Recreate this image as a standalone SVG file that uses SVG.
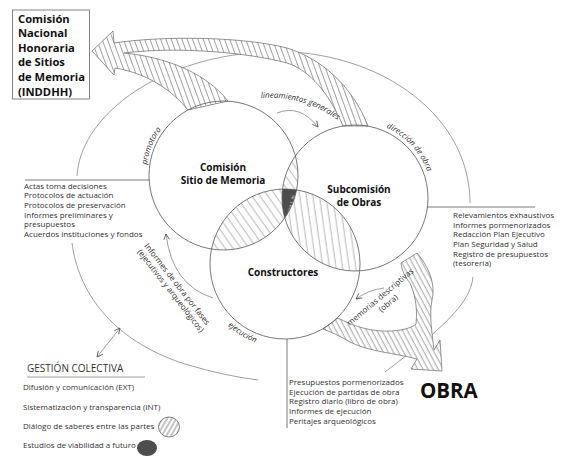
<svg xmlns="http://www.w3.org/2000/svg" width="584" height="461" viewBox="0 0 584 461">
<style>
.t{font-family:"Open Sans","Noto Sans","DejaVu Sans",sans-serif;fill:#333}
.b{font-weight:bold;fill:#111}
.i{font-style:italic}
.ln{fill:none;stroke:#555;stroke-width:0.8}
.thin{fill:none;stroke:#777;stroke-width:0.7}
.circ{fill:none;stroke:#555;stroke-width:0.8}
.band{stroke:#666;stroke-width:0.7}
</style>
<defs>
<pattern id="hA" width="6.5" height="6.5" patternUnits="userSpaceOnUse" patternTransform="rotate(-35)"><line x1="3" y1="0" x2="3" y2="6.5" stroke="#888" stroke-width="0.6"/></pattern>
<pattern id="hV" width="6.5" height="6.5" patternUnits="userSpaceOnUse" patternTransform="rotate(-8)"><line x1="3" y1="0" x2="3" y2="6.5" stroke="#888" stroke-width="0.6"/></pattern>
<pattern id="hT" width="5" height="5" patternUnits="userSpaceOnUse" patternTransform="rotate(-20)"><line x1="2.5" y1="0" x2="2.5" y2="5" stroke="#666" stroke-width="0.6"/></pattern>
<pattern id="hL" width="4.5" height="4.5" patternUnits="userSpaceOnUse" patternTransform="rotate(-28)"><line x1="2" y1="0" x2="2" y2="4.5" stroke="#666" stroke-width="0.6"/></pattern>
<pattern id="hG" width="4" height="4" patternUnits="userSpaceOnUse" patternTransform="rotate(30)"><line x1="2" y1="0" x2="2" y2="4" stroke="#555" stroke-width="0.7"/></pattern>
<clipPath id="cA"><circle cx="223.5" cy="175.5" r="74.5"/></clipPath>
<clipPath id="cB"><circle cx="355" cy="198" r="73"/></clipPath>
<marker id="ah" viewBox="0 0 10 10" refX="9" refY="5" markerWidth="7" markerHeight="7" orient="auto-start-reverse" markerUnits="userSpaceOnUse"><path d="M1,1 L9,5 L1,9" fill="none" stroke="#555" stroke-width="1.2"/></marker>
<path id="pProm" d="M146.8 164.7 A77.5 77.5 0 0 1 173.7 116.1"/>
<path id="pDir" d="M386.3 127.6 A77 77 0 0 1 430.3 182"/>
<path id="pEje" d="M227.7 325.4 A84 84 0 0 0 270.4 346.7"/>
<path id="pLin" d="M261 98 Q310 95 346 127"/>
</defs>
<rect width="584" height="461" fill="#fff"/>

<g id="connectors">
<path class="thin" d="M77 176 C80 120 150 60 260 52 C370 45 470 110 470 203"/>
<path class="thin" d="M72 243 C78 290 110 340 185 364 Q225 376 258 380"/>
<path class="thin" d="M473 277 C470 305 440 330 385 372"/>
<line class="thin" x1="120" y1="328" x2="97" y2="357" marker-start="url(#ah)" marker-end="url(#ah)"/>
<path class="thin" d="M277 113 Q300 104 318 127" marker-end="url(#ah)"/>
<path class="thin" d="M213 298 Q172 285 166 234" marker-end="url(#ah)"/>
<path class="thin" d="M384 288 Q368 290 356 299" marker-end="url(#ah)"/>
<g id="arrow-inddhh">
<path fill="#fff" d="M92 51 L113 31 L114 43 C160 36 240 36 287 48 C320 58 352 85 368 126 L343 126 C330 95 310 70 287 63 C250 53 180 46 124 53 C165 57 205 72 228 101 L188 110 C170 88 145 73 115 68 L114 75 Z"/>
<path class="band" fill="url(#hT)" d="M92 51 L113 31 L114 43 C160 36 240 36 287 48 C320 58 352 85 368 126 L343 126 C330 95 310 70 287 63 C250 53 180 46 124 53 C165 57 205 72 228 101 L188 110 C170 88 145 73 115 68 L114 75 Z"/>
</g>
<g id="arrow-obra">
<path fill="#fff" d="M401 263 L417 253 C428 266 436 283 432 300 C429 316 432 332 434 350 L440 340 L442 371 L411 369 L417 359 C395 353 370 352 350 342 C340 336 331 332 323 329 L338 318 C355 327 372 332 392 331 C405 330 413 327 416 324 C418 306 414 292 410 283 C404 276 402 270 401 263 Z"/>
<path class="band" fill="url(#hL)" d="M401 263 L417 253 C428 266 436 283 432 300 C429 316 432 332 434 350 L440 340 L442 371 L411 369 L417 359 C395 353 370 352 350 342 C340 336 331 332 323 329 L338 318 C355 327 372 332 392 331 C405 330 413 327 416 324 C418 306 414 292 410 283 C404 276 402 270 401 263 Z"/>
</g>
<line class="ln" x1="25" y1="180" x2="149" y2="180"/>
<line class="ln" x1="427" y1="207" x2="535" y2="207"/>
<line class="ln" x1="287" y1="339" x2="287" y2="428"/>
<line class="thin" x1="27" y1="377" x2="145" y2="377"/>
<text class="t i" font-size="8"><textPath href="#pProm">promotora</textPath></text>
<text class="t i" font-size="8"><textPath href="#pDir">dirección de obra</textPath></text>
<text class="t i" font-size="8"><textPath href="#pEje">ejecución</textPath></text>
<text class="t i" font-size="8"><textPath href="#pLin">lineamientos generales</textPath></text>
<text class="t" font-size="8" transform="translate(144 246) rotate(52)">Informes de obra por fases</text>
<text class="t" font-size="8" transform="translate(137 252) rotate(52)">(ejecutivos y arqueológicos)</text>
<text class="t" font-size="8" text-anchor="middle" transform="translate(382 299) rotate(-40)">memorias descriptivas<tspan x="2" y="10">(obra)</tspan></text>
</g>

<g id="overlaps">
<g clip-path="url(#cA)"><circle cx="285" cy="264" r="75" fill="url(#hA)"/><circle cx="355" cy="198" r="73" fill="url(#hA)"/></g>
<g clip-path="url(#cB)"><circle cx="285" cy="264" r="75" fill="url(#hV)"/></g>
<g clip-path="url(#cA)"><g clip-path="url(#cB)"><circle cx="285" cy="264" r="75" fill="#4d4d4d"/></g></g>
<text class="t" font-size="4.5" style="fill:#fff" transform="translate(290 214) rotate(-75)">plan s. m.</text>
</g>

<g id="comision">
<circle class="circ" cx="223.5" cy="175.5" r="74.5"/>
<text class="t b" font-size="10" text-anchor="middle"><tspan x="223" y="171">Comisión</tspan><tspan x="223" y="184">Sitio de Memoria</tspan></text>
</g>
<g id="subcomision">
<circle class="circ" cx="355" cy="198" r="73"/>
<text class="t b" font-size="10" text-anchor="middle"><tspan x="359" y="193">Subcomisión</tspan><tspan x="359" y="206">de Obras</tspan></text>
</g>
<g id="constructores">
<circle class="circ" cx="285" cy="264" r="75"/>
<text class="t b" font-size="10" text-anchor="middle" x="283" y="276">Constructores</text>
</g>

<g id="inddhh">
<rect x="12.5" y="10" width="77" height="89" fill="none" stroke="#666" stroke-width="0.8"/>
<text class="t b" font-size="11.2"><tspan x="18" y="22.5">Comisión</tspan><tspan x="18" y="37.1">Nacional</tspan><tspan x="18" y="51.7">Honoraria</tspan><tspan x="18" y="66.3">de Sitios</tspan><tspan x="18" y="80.9">de Memoria</tspan><tspan x="18" y="95.5">(INDDHH)</tspan></text>
</g>

<g id="lista-comision">
<text class="t" font-size="8"><tspan x="24" y="188.5">Actas toma decisiones</tspan><tspan x="24" y="198.3">Protocolos de actuación</tspan><tspan x="24" y="208">Protocolos de preservación</tspan><tspan x="24" y="217.7">Informes preliminares y</tspan><tspan x="24" y="227.4">presupuestos</tspan><tspan x="24" y="237.2">Acuerdos instituciones y fondos</tspan></text>
</g>
<g id="lista-subcomision">
<text class="t" font-size="8"><tspan x="453" y="218.3">Relevamientos exhaustivos</tspan><tspan x="453" y="227.8">Informes pormenorizados</tspan><tspan x="453" y="237.3">Redacción Plan Ejecutivo</tspan><tspan x="453" y="246.8">Plan Seguridad y Salud</tspan><tspan x="453" y="256.5">Registro de presupuestos</tspan><tspan x="453" y="266">(tesorería)</tspan></text>
</g>
<g id="lista-constructores">
<text class="t" font-size="8"><tspan x="289" y="384.8">Presupuestos pormenorizados</tspan><tspan x="289" y="394.5">Ejecución de partidas de obra</tspan><tspan x="289" y="404.2">Registro diario (libro de obra)</tspan><tspan x="289" y="413.9">Informes de ejecución</tspan><tspan x="289" y="423.6">Peritajes arqueológicos</tspan></text>
</g>
<g id="obra">
<text class="t b" font-size="20.5" x="420" y="398">OBRA</text>
</g>
<g id="gestion">
<text class="t" font-size="10" x="27" y="372">GESTIÓN COLECTIVA</text>
<text class="t" font-size="8"><tspan x="23" y="390">Difusión y comunicación (EXT)</tspan><tspan x="23" y="410">Sistematización y transparencia (INT)</tspan><tspan x="23" y="428.7">Diálogo de saberes entre las partes</tspan><tspan x="23" y="448">Estudios de viabilidad a futuro</tspan></text>
<ellipse cx="169" cy="427" rx="10.5" ry="10" fill="url(#hG)" stroke="#555" stroke-width="0.7"/>
<ellipse cx="147" cy="448" rx="10" ry="8" fill="#4d4d4d"/>
</g>
</svg>
